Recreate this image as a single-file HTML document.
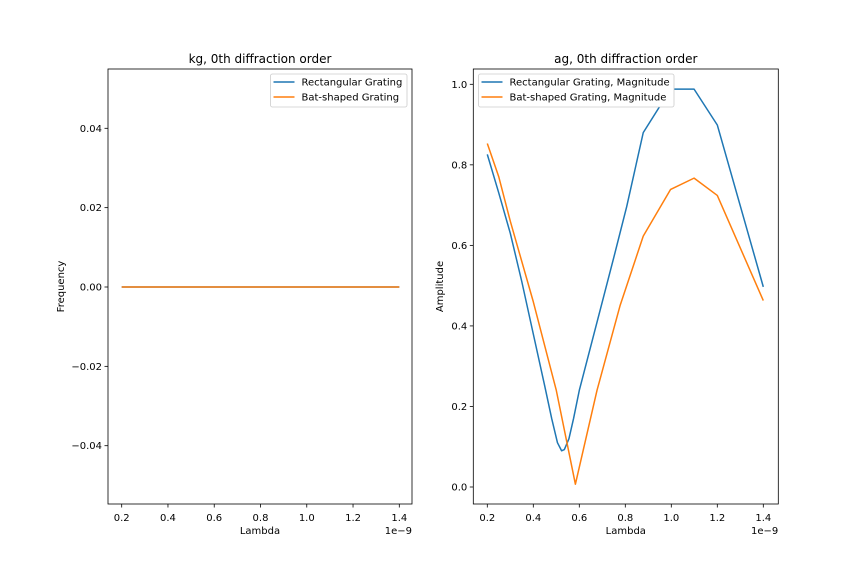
<!DOCTYPE html>
<html><head><meta charset="utf-8"><style>
body{margin:0;background:#fff}
svg{font-family:"DejaVu Sans","Liberation Sans",sans-serif}
</style></head><body>
<svg id="c" width="864" height="576" viewBox="0 0 864 576"></svg>
<script>
const lambdas = [0.2,1.4];
const kgRect = [0,0];
const kgBat = [0,0];
const rectX = [0.2,0.25,0.3,0.35,0.4,0.45,0.48,0.505,0.523,0.535,0.555,0.575,0.6,0.65,0.7,0.75,0.806,0.878,0.997,1.099,1.2,1.4];
const rectY = [0.826,0.73,0.63,0.51,0.38,0.25,0.17,0.11,0.09,0.093,0.12,0.17,0.24,0.35,0.46,0.57,0.696,0.88,0.988,0.988,0.899,0.497];
const batX = [0.2,0.25,0.3,0.4,0.5,0.583,0.677,0.777,0.878,0.997,1.099,1.2,1.4];
const batY = [0.853,0.77,0.66,0.46,0.24,0.007,0.24,0.45,0.623,0.739,0.767,0.724,0.463];
const xTicks = [0.2,0.4,0.6,0.8,1.0,1.2,1.4];
const kgTicks = [-0.04,-0.02,0,0.02,0.04];
const agTicks = [0,0.2,0.4,0.6,0.8,1.0];
const NS="http://www.w3.org/2000/svg";
const svg=document.getElementById('c');
function mk(t,a,p){const e=document.createElementNS(NS,t);for(const k in a)e.setAttribute(k,a[k]);(p||svg).appendChild(e);return e;}
function txt(s,a,p){const e=mk('text',a,p);e.textContent=s;return e;}
const BLUE='#1f77b4',ORANGE='#ff7f0e';
function panel(o){
  const g=mk('g',{});
  
  
  const X=v=>o.x0+(v-0.2)/1.2*(o.x1-o.x0);
  const Y=v=>o.yA+(v-o.vA)/(o.vB-o.vA)*(o.yB-o.yA);
  for(const t of xTicks){
    const x=X(t);
    mk('line',{x1:x,x2:x,y1:o.B,y2:o.B+3.5,stroke:'#000','stroke-width':0.8},g);
    const l=txt(t.toFixed(1),{x:x,y:o.B+17,'font-size':10,'text-anchor':'middle'},g);
    
    
  }
  for(const t of o.yt){
    const y=Y(t);
    mk('line',{x1:o.L-3.5,x2:o.L,y1:y,y2:y,stroke:'#000','stroke-width':0.8},g);
    const s=(t<0?'\u2212':'')+Math.abs(t).toFixed(o.dec);
    const l=txt(s,{x:o.L-6,y:y+3.5,'font-size':10,'text-anchor':'end'},g);
    
    
  }
  o.series.forEach(sr=>{
    const p=mk('polyline',{points:sr.x.map((v,i)=>X(v)+','+Y(sr.y[i])).join(' '),fill:'none',stroke:sr.c,'stroke-width':1.5,'stroke-linejoin':'round'},g);
    
    
  });
  mk('rect',{x:o.L,y:o.T,width:o.R-o.L,height:o.B-o.T,fill:'none',stroke:'#000','stroke-width':0.8},g);
  const ti=txt(o.title,{x:(o.L+o.R)/2,y:o.T-6,'font-size':12,'text-anchor':'middle'},g);
  
  
  const xl=txt('Lambda',{x:(o.L+o.R)/2,y:o.B+30,'font-size':10,'text-anchor':'middle'},g);
  
  
  const ex=txt('1e\u22129',{x:o.R,y:o.B+30,'font-size':10,'text-anchor':'end'},g);
  
  
  const yl=txt(o.ylab,{x:0,y:0,'font-size':10,'text-anchor':'middle',transform:`translate(${o.ylx},${(o.T+o.B)/2}) rotate(-90)`},g);
  
  
  const lg=mk('g',{},g);
  
  
  mk('rect',{x:o.lx,y:74,width:o.lw,height:33,fill:'#fff',stroke:'#ccc','stroke-width':0.8,rx:2},lg);
  o.series.forEach((sr,i)=>{
    const y=82+i*15;
    mk('line',{x1:o.lx+3,x2:o.lx+24,y1:y,y2:y,stroke:sr.c,'stroke-width':1.5},lg);
    const t=txt(sr.label,{x:o.lx+31,y:y+3.5,'font-size':10},lg);
    
    
  });
}
panel({name:'kg-chart',L:108,R:412,T:69,B:504,x0:121.7,x1:399.3,yA:287,vA:0,yB:128.3,vB:0.04,yt:kgTicks,dec:2,
  title:'kg, 0th diffraction order',ylab:'Frequency',ylx:64,lx:270.5,lw:136.5,
  series:[{x:lambdas,y:kgRect,c:BLUE,n:'rect-line',label:'Rectangular Grating'},{x:lambdas,y:kgBat,c:ORANGE,n:'bat-line',label:'Bat-shaped Grating'}]});
panel({name:'ag-chart',L:473.3,R:778.3,T:69,B:504,x0:487.3,x1:763.3,yA:487,vA:0,yB:84.3,vB:1.0,yt:agTicks,dec:1,
  title:'ag, 0th diffraction order',ylab:'Amplitude',ylx:443,lx:478.5,lw:195.5,
  series:[{x:rectX,y:rectY,c:BLUE,n:'rect-magnitude-line',label:'Rectangular Grating, Magnitude'},{x:batX,y:batY,c:ORANGE,n:'bat-magnitude-line',label:'Bat-shaped Grating, Magnitude'}]});
</script>
</body></html>
